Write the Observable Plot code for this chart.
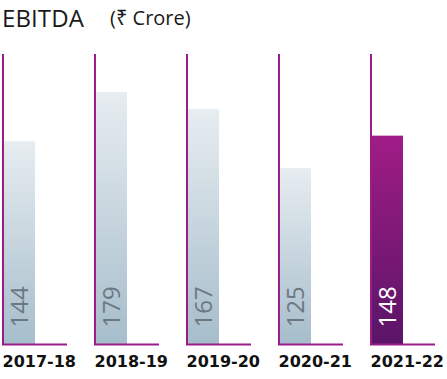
<!DOCTYPE html>
<html><head><meta charset="utf-8">
<script src="https://cdn.jsdelivr.net/npm/d3@7"></script>
<script src="https://cdn.jsdelivr.net/npm/@observablehq/plot@0.6"></script>
<style>
body{margin:0;background:#fff;}
#title{position:relative;height:40px;width:447px;font-family:"Open Sans","Noto Sans","DejaVu Sans",sans-serif;color:#1a1a1a;}
#title .main{position:absolute;left:2px;top:5px;font-size:24px;font-weight:400;line-height:26px;letter-spacing:0.1px;}
#title .unit{position:absolute;left:110px;top:6px;font-size:20px;font-weight:400;line-height:24px;}
</style>
</head><body>
<div id="title"><span class="main">EBITDA</span><span class="unit">(₹ Crore)</span></div>
<div id="chart"></div>
<script>
const years = ["2017-18", "2018-19", "2019-20", "2020-21", "2021-22"];
const ebitda = [144, 179, 167, 125, 148];
const highlightYear = "2021-22";
const axisTop = 206;

const purple = "#9b1d8a";
const data = years.map((year, i) => ({year, value: ebitda[i], hi: year === highlightYear}));

const defs = () => {
  const d = d3.create("svg:defs");
  const g1 = d.append("linearGradient").attr("id", "gBar").attr("x1", 0).attr("y1", 0).attr("x2", 0).attr("y2", 1);
  g1.append("stop").attr("offset", "0%").attr("stop-color", "#e7edf1");
  g1.append("stop").attr("offset", "100%").attr("stop-color", "#a6bdcb");
  const g2 = d.append("linearGradient").attr("id", "gHi").attr("x1", 0).attr("y1", 0).attr("x2", 0).attr("y2", 1);
  g2.append("stop").attr("offset", "0%").attr("stop-color", "#a01c86");
  g2.append("stop").attr("offset", "100%").attr("stop-color", "#5a1567");
  return d.node();
};

const bw = 65;
const chart = Plot.plot({
  width: 447, height: 339,
  marginLeft: 2, marginRight: 12, marginTop: 14, marginBottom: 35,
  x: {domain: years, paddingInner: 27 / 92, paddingOuter: 0, align: 0, round: false, axis: null},
  y: {domain: [0, axisTop], axis: null},
  style: {fontFamily: "'Open Sans', 'Noto Sans', sans-serif", background: "#fff", overflow: "visible"},
  marks: [
    defs,
    Plot.barY(data.filter(d => !d.hi), {x: "year", y: "value", insetLeft: 2, insetRight: 32, fill: "url(#gBar)"}),
    Plot.barY(data.filter(d => d.hi), {x: "year", y: "value", insetLeft: 2, insetRight: 32, fill: "url(#gHi)"}),
    Plot.barY(years, {x: d => d, y: axisTop, insetRight: bw - 2, fill: purple}),
    Plot.tickY(years, {x: d => d, y: 0, stroke: purple, strokeWidth: 2}),
    Plot.text(data.filter(d => !d.hi), {x: "year", y: 0, text: d => String(d.value), rotate: -90, textAnchor: "start", lineAnchor: "middle", dx: -15, dy: -17, fontSize: 24, fontWeight: 400, fill: "#6b7882"}),
    Plot.text(data.filter(d => d.hi), {x: "year", y: 0, text: d => String(d.value), rotate: -90, textAnchor: "start", lineAnchor: "middle", dx: -15, dy: -17, fontSize: 24, fontWeight: 400, fill: "#ffffff"}),
    Plot.text(years, {x: d => d, y: 0, text: d => d, textAnchor: "start", lineAnchor: "middle", dx: -bw / 2, dy: 17, fontSize: 16, fontWeight: "bold", fill: "#111", fontFamily: "'DejaVu Sans', sans-serif"})
  ]
});
document.getElementById("chart").appendChild(chart);
</script>
</body></html>
